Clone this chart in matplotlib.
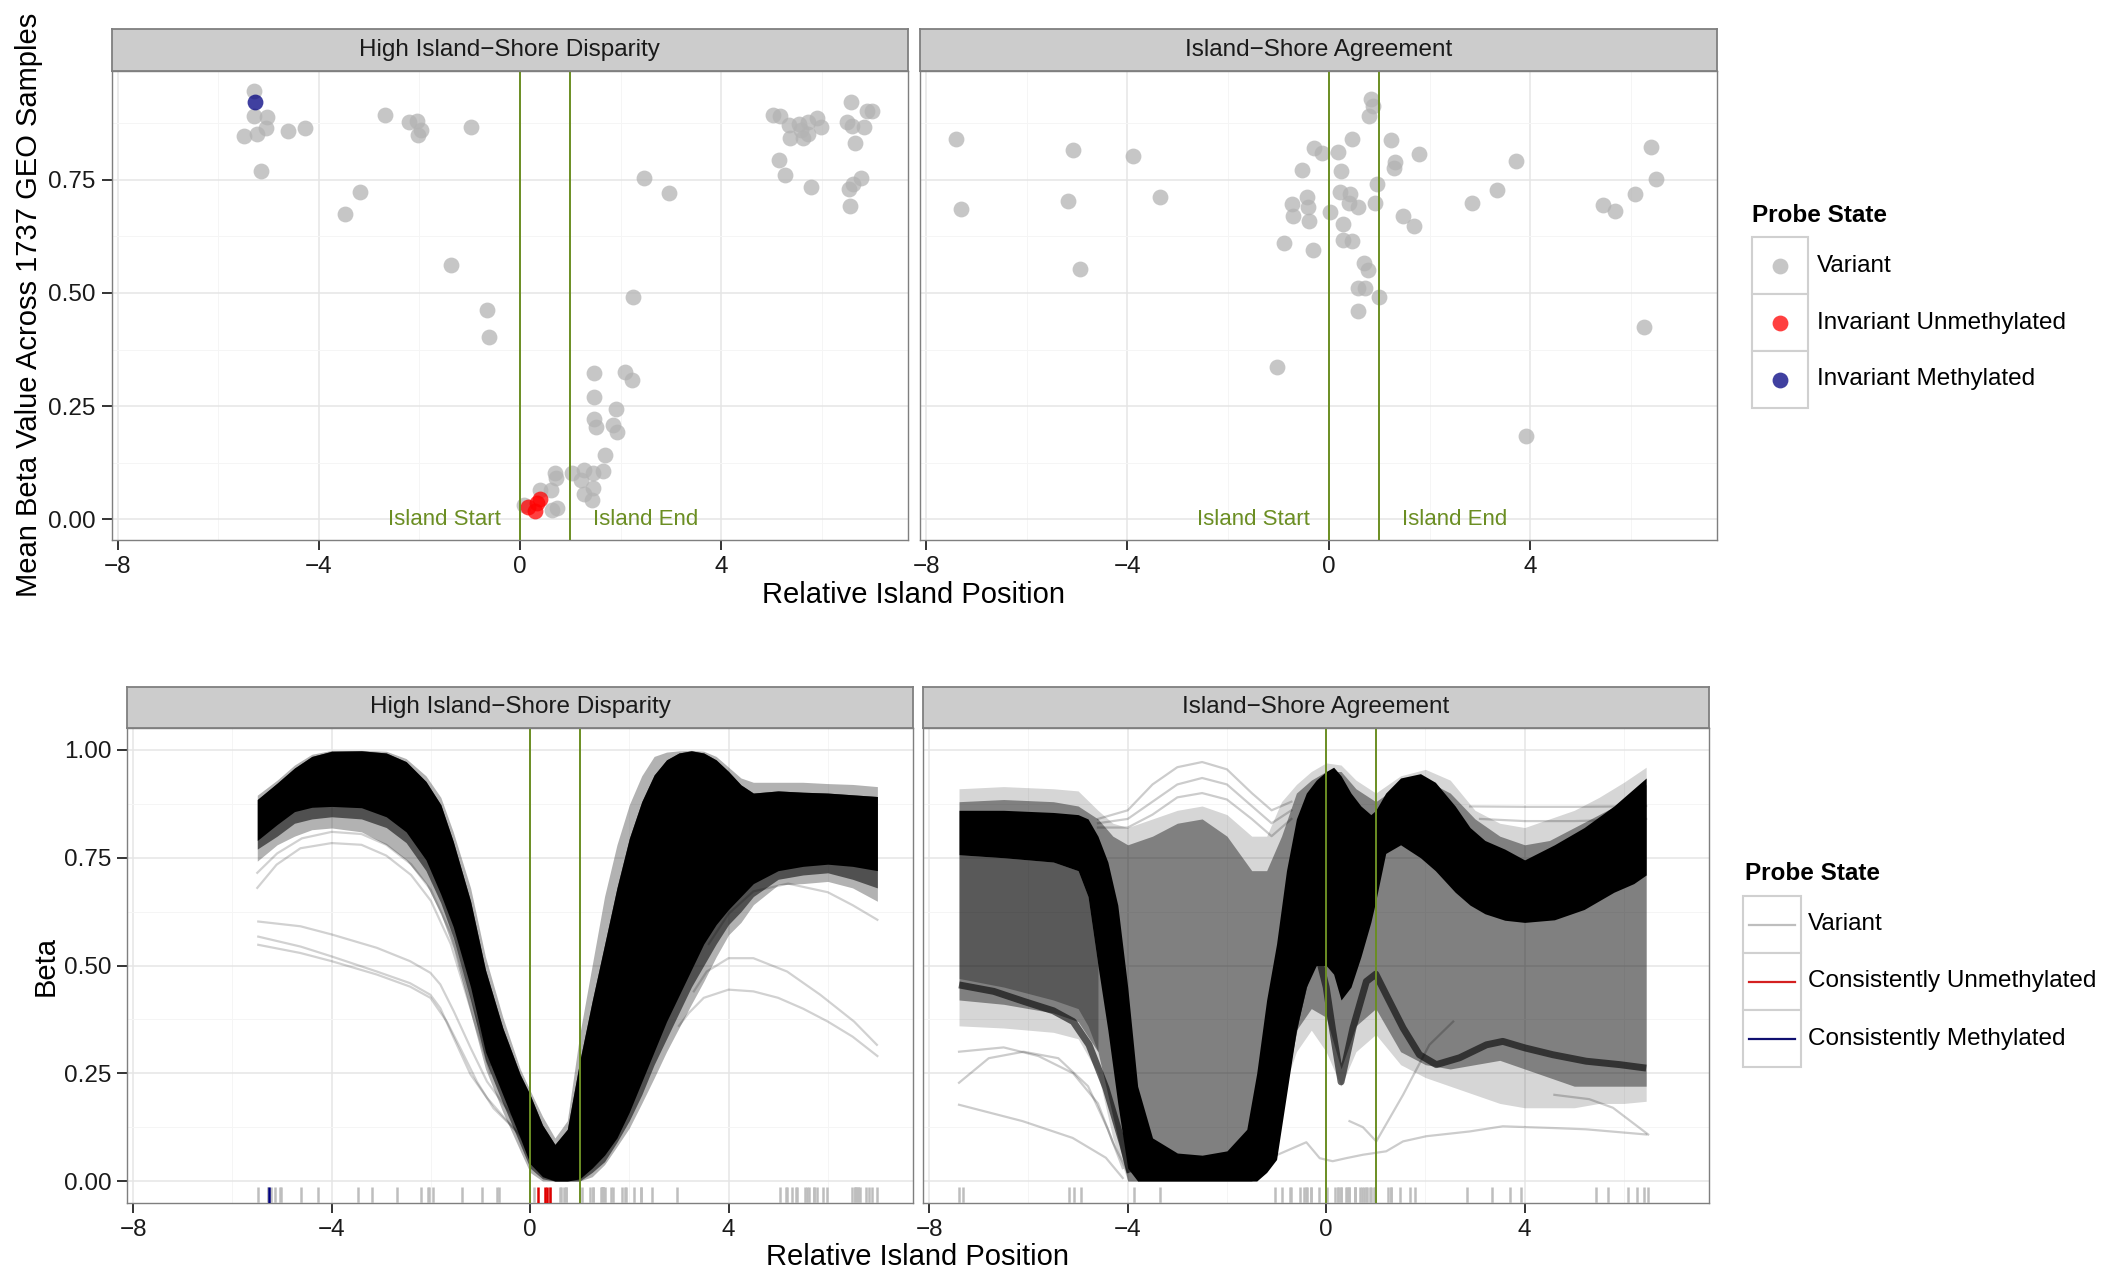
"""Island/shore methylation facets: mean beta scatter (top) and smoothed beta profiles (bottom)."""

import numpy as np
import matplotlib
matplotlib.use("Agg")
import matplotlib.pyplot as plt
from matplotlib.patches import Rectangle
from matplotlib.lines import Line2D

plt.rcParams["font.family"] = ["Liberation Sans", "DejaVu Sans"]

W, H = 2112, 1273
GREEN = "#6B8E23"

# ── data: top row, mean beta per probe ───────────────────────────────────────
panels = ["High Island\u2212Shore Disparity", "Island\u2212Shore Agreement"]

tl_var_x = [-5.29, -5.29, -5.02, -5.49, -5.23, -5.05, -5.14, -4.62, -4.27, -2.68,
            -2.20, -2.05, -2.03, -1.96, -0.98, -3.18, -3.47, -1.38, -0.66, -0.62,
            0.07, 0.40, 0.61, 0.69, 0.72, 0.63, 0.73, 1.04, 1.27, 1.45,
            1.21, 1.27, 1.42, 1.45, 1.64, 1.68, 1.47, 1.50, 1.47, 1.47,
            1.91, 1.85, 1.93, 2.09, 2.23, 2.24, 2.46, 2.96,
            5.03, 5.17, 5.35, 5.55, 5.73, 5.91, 5.99, 5.58, 5.37, 5.62,
            5.72, 5.15, 5.27, 5.79, 6.57, 6.49, 6.60, 6.84, 6.90, 7.00,
            6.65, 6.77, 6.61, 6.54, 6.55]
tl_var_y = [0.947, 0.890, 0.888, 0.846, 0.851, 0.864, 0.770, 0.857, 0.864, 0.893,
            0.877, 0.879, 0.849, 0.859, 0.866, 0.723, 0.674, 0.562, 0.463, 0.402,
            0.031, 0.064, 0.064, 0.103, 0.092, 0.020, 0.024, 0.103, 0.108, 0.103,
            0.086, 0.055, 0.042, 0.068, 0.106, 0.141, 0.221, 0.204, 0.271, 0.324,
            0.243, 0.208, 0.193, 0.326, 0.307, 0.492, 0.753, 0.721,
            0.893, 0.890, 0.872, 0.874, 0.877, 0.886, 0.866, 0.859, 0.842, 0.842,
            0.851, 0.794, 0.761, 0.733, 0.921, 0.877, 0.870, 0.866, 0.901, 0.901,
            0.831, 0.753, 0.740, 0.730, 0.692]
tl_unmeth_x = [0.165, 0.298, 0.397, 0.344]
tl_unmeth_y = [0.028, 0.018, 0.044, 0.036]
tl_meth_x = [-5.26]
tl_meth_y = [0.922]

tr_var_x = [-7.41, -7.31, -5.08, -5.18, -4.95, -3.88, -3.35, -1.03, -0.89, -0.73,
            -0.71, -0.53, -0.44, -0.41, -0.39, -0.31, -0.30, -0.14, 0.02, 0.18,
            0.24, 0.23, 0.29, 0.29, 0.42, 0.40, 0.47, 0.47, 0.58, 0.58,
            0.72, 0.58, 0.69, 0.77, 0.83, 0.88, 0.80, 0.96, 0.91, 0.99,
            1.24, 1.31, 1.30, 1.48, 1.69, 1.80, 2.84, 3.35, 3.71, 3.92,
            5.44, 5.68, 6.08, 6.26, 6.40, 6.49]
tr_var_y = [0.840, 0.685, 0.816, 0.704, 0.552, 0.803, 0.711, 0.337, 0.611, 0.697,
            0.669, 0.772, 0.713, 0.689, 0.658, 0.594, 0.820, 0.809, 0.678, 0.811,
            0.770, 0.722, 0.652, 0.617, 0.719, 0.698, 0.615, 0.840, 0.691, 0.510,
            0.510, 0.460, 0.566, 0.551, 0.929, 0.914, 0.892, 0.741, 0.698, 0.492,
            0.837, 0.789, 0.776, 0.671, 0.648, 0.807, 0.699, 0.728, 0.791, 0.184,
            0.695, 0.682, 0.719, 0.424, 0.822, 0.752]

# ── data: bottom-left, envelopes of the smoothed beta profiles ────────────────
bl_x = [-5.5, -5.1, -4.75, -4.4, -4.0, -3.4, -2.9, -2.5, -2.1, -1.8,
        -1.55, -1.2, -0.9, -0.55, -0.2, 0.0, 0.25, 0.5, 0.75, 1.0,
        1.25, 1.5, 1.75, 2.0, 2.25, 2.5, 2.75, 3.0, 3.25, 3.5,
        3.75, 4.0, 4.25, 4.5, 5.0, 5.5, 6.0, 6.5, 7.0]
bl_core_hi = [0.885, 0.923, 0.958, 0.985, 0.997, 0.998, 0.993, 0.973, 0.927, 0.873,
              0.788, 0.649, 0.49, 0.355, 0.247, 0.20, 0.13, 0.085, 0.12, 0.278,
              0.417, 0.548, 0.68, 0.795, 0.88, 0.942, 0.977, 0.993, 0.998, 0.993,
              0.977, 0.95, 0.919, 0.90, 0.905, 0.902, 0.90, 0.896, 0.892]
bl_core_lo = [0.79, 0.827, 0.857, 0.867, 0.869, 0.866, 0.845, 0.81, 0.745, 0.665,
              0.59, 0.45, 0.30, 0.20, 0.10, 0.04, 0.01, 0.0, 0.0, 0.005,
              0.03, 0.06, 0.10, 0.16, 0.23, 0.30, 0.37, 0.43, 0.49, 0.55,
              0.595, 0.63, 0.66, 0.69, 0.72, 0.73, 0.735, 0.73, 0.72]
bl_mid_lo = [0.77, 0.80, 0.83, 0.84, 0.845, 0.84, 0.82, 0.785, 0.72, 0.645,
             0.565, 0.42, 0.28, 0.18, 0.085, 0.03, 0.005, 0.0, 0.0, 0.0,
             0.02, 0.045, 0.09, 0.14, 0.20, 0.27, 0.33, 0.39, 0.45, 0.50,
             0.55, 0.595, 0.625, 0.66, 0.70, 0.71, 0.715, 0.70, 0.68]
bl_fringe_hi = [0.895, 0.93, 0.965, 0.99, 0.999, 0.999, 0.997, 0.98, 0.94, 0.89,
                0.81, 0.68, 0.52, 0.38, 0.26, 0.21, 0.15, 0.10, 0.14, 0.34,
                0.50, 0.66, 0.78, 0.873, 0.94, 0.985, 0.995, 0.998, 0.999, 0.997,
                0.985, 0.96, 0.935, 0.925, 0.925, 0.925, 0.922, 0.92, 0.915]
bl_fringe_lo = [0.742, 0.78, 0.80, 0.815, 0.819, 0.81, 0.78, 0.745, 0.69, 0.62,
                0.54, 0.39, 0.26, 0.16, 0.07, 0.02, 0.0, 0.0, 0.0, 0.0,
                0.01, 0.038, 0.08, 0.123, 0.18, 0.239, 0.30, 0.355, 0.41, 0.463,
                0.52, 0.571, 0.60, 0.641, 0.687, 0.69, 0.695, 0.68, 0.649]

# single stray profiles, bottom-left
bl_lines = [
    ([-5.48, -4.63, -4.0, -3.09, -2.42, -2.01, -1.81, -1.54, -1.20, -0.87, -0.53, 0.0, 0.5],
     [0.602, 0.591, 0.572, 0.541, 0.51, 0.483, 0.456, 0.394, 0.309, 0.231, 0.177, 0.10, 0.05]),
    ([-5.48, -4.63, -4.0, -3.09, -2.42, -2.01, -1.81, -1.54, -1.20, -0.87, -0.40, 0.0, 0.5],
     [0.567, 0.544, 0.521, 0.486, 0.459, 0.432, 0.401, 0.332, 0.247, 0.193, 0.131, 0.077, 0.03]),
    ([-5.48, -4.63, -4.0, -3.09, -2.42, -2.01, -1.68, -1.41, -1.07, -0.74, 0.0, 0.5],
     [0.548, 0.529, 0.510, 0.479, 0.451, 0.425, 0.37, 0.309, 0.23, 0.169, 0.085, 0.03]),
    ([-5.5, -5.11, -4.63, -4.0, -3.4, -2.9, -2.4, -2.0, -1.6, -1.2, -0.8],
     [0.68, 0.734, 0.772, 0.784, 0.78, 0.755, 0.71, 0.65, 0.55, 0.40, 0.25]),
    ([-5.5, -5.1, -4.6, -4.0, -3.4, -2.9, -2.4, -2.0, -1.6, -1.2, -0.8],
     [0.715, 0.76, 0.795, 0.81, 0.805, 0.78, 0.735, 0.675, 0.575, 0.42, 0.27]),
    ([3.0, 3.2, 3.5, 4.0, 4.5, 5.0, 5.5, 6.0, 6.5, 7.0],
     [0.36, 0.39, 0.425, 0.444, 0.44, 0.425, 0.40, 0.37, 0.335, 0.29]),
    ([3.3, 3.56, 4.0, 4.5, 5.18, 5.85, 6.53, 6.99],
     [0.44, 0.486, 0.517, 0.517, 0.486, 0.432, 0.37, 0.316]),
    ([3.6, 4.0, 4.5, 5.2, 6.0, 6.5, 7.0],
     [0.55, 0.62, 0.672, 0.69, 0.67, 0.64, 0.606]),
]

# ── data: bottom-right envelopes ─────────────────────────────────────────────
br_x = [-7.4, -6.5, -5.5, -5.0, -4.8, -4.6, -4.4, -4.2, -4.0, -3.8,
        -3.5, -3.0, -2.5, -2.0, -1.6, -1.4, -1.2, -1.0, -0.8, -0.6,
        -0.4, -0.2, 0.0, 0.15, 0.3, 0.5, 0.7, 0.9, 1.0, 1.2,
        1.5, 1.9, 2.2, 2.6, 2.9, 3.2, 3.6, 4.0, 4.6, 5.2,
        5.8, 6.2, 6.45]
br_core_hi = [0.86, 0.86, 0.855, 0.85, 0.84, 0.80, 0.74, 0.64, 0.45, 0.22,
              0.10, 0.065, 0.06, 0.07, 0.12, 0.25, 0.42, 0.55, 0.72, 0.84,
              0.90, 0.93, 0.95, 0.96, 0.94, 0.90, 0.87, 0.85, 0.86, 0.90,
              0.935, 0.945, 0.925, 0.87, 0.82, 0.79, 0.77, 0.745, 0.78, 0.82,
              0.87, 0.91, 0.935]
br_core_lo = [0.757, 0.75, 0.74, 0.72, 0.66, 0.50, 0.35, 0.18, 0.03, 0.0,
              0.0, 0.0, 0.0, 0.0, 0.0, 0.0, 0.02, 0.05, 0.20, 0.35,
              0.45, 0.50, 0.50, 0.48, 0.42, 0.45, 0.52, 0.60, 0.65, 0.76,
              0.78, 0.75, 0.72, 0.67, 0.64, 0.62, 0.605, 0.60, 0.606, 0.63,
              0.67, 0.69, 0.71]

br_dx = [-7.4, -6.5, -5.5, -5.0, -4.6, -4.3, -4.0, -3.5, -3.0, -2.5,
         -2.0, -1.5, -1.2, -0.9, -0.6, -0.3, 0.0, 0.3, 0.6, 1.0,
         1.5, 2.0, 2.5, 3.0, 3.5, 4.0, 4.5, 5.0, 5.5, 6.0, 6.45]
br_sparse_hi = [0.91, 0.915, 0.91, 0.905, 0.86, 0.83, 0.82, 0.84, 0.86, 0.87,
                0.85, 0.80, 0.80, 0.88, 0.92, 0.95, 0.97, 0.965, 0.93, 0.90,
                0.94, 0.955, 0.93, 0.86, 0.83, 0.82, 0.84, 0.86, 0.89, 0.925, 0.96]
br_sparse_lo = [0.36, 0.355, 0.345, 0.33, 0.25, 0.10, 0.0, 0.0, 0.0, 0.0,
                0.0, 0.0, 0.05, 0.2, 0.3, 0.35, 0.30, 0.22, 0.30, 0.34,
                0.27, 0.24, 0.22, 0.2, 0.18, 0.17, 0.17, 0.17, 0.18, 0.18, 0.185]
br_mid_hi = [0.88, 0.885, 0.88, 0.87, 0.84, 0.80, 0.78, 0.80, 0.83, 0.84,
             0.80, 0.72, 0.72, 0.80, 0.90, 0.93, 0.95, 0.95, 0.91, 0.88,
             0.92, 0.93, 0.90, 0.84, 0.80, 0.78, 0.79, 0.82, 0.85, 0.88, 0.92]
br_mid_lo = [0.42, 0.41, 0.39, 0.37, 0.30, 0.15, 0.0, 0.0, 0.0, 0.0,
             0.0, 0.0, 0.06, 0.25, 0.35, 0.40, 0.38, 0.26, 0.36, 0.40,
             0.30, 0.27, 0.26, 0.27, 0.28, 0.26, 0.24, 0.22, 0.22, 0.22, 0.22]

# denser shelf under the left plateau, bottom-right
br_shelf_x = [-7.4, -6.5, -5.5, -5.0, -4.8, -4.6]
br_shelf_hi = [0.757, 0.75, 0.74, 0.72, 0.66, 0.50]
br_shelf_lo = [0.47, 0.45, 0.42, 0.40, 0.36, 0.30]

# darker secondary bundle of profiles, bottom-right
br_bundle = [
    ([-7.4, -6.7, -6.1, -5.5, -5.1, -4.78, -4.44, -4.1, -3.95],
     [0.455, 0.44, 0.417, 0.395, 0.37, 0.316, 0.216, 0.085, 0.02]),
    ([-1.2, -0.9, -0.6, -0.35, -0.13, 0.0, 0.13, 0.3, 0.54, 0.81, 1.0, 1.21,
      1.55, 1.88, 2.22, 2.69, 3.23, 3.56, 4.0, 4.57, 5.24, 5.92, 6.45],
     [0.05, 0.2, 0.38, 0.50, 0.51, 0.45, 0.35, 0.23, 0.355, 0.463, 0.48, 0.432,
      0.355, 0.293, 0.27, 0.286, 0.316, 0.324, 0.309, 0.293, 0.278, 0.27, 0.262]),
]

br_lines = [
    ([-7.4, -6.12, -5.11, -4.44, -4.1], [0.177, 0.139, 0.10, 0.054, 0.007]),
    ([-7.4, -6.8, -6.1, -5.4, -4.8, -4.4, -4.1], [0.228, 0.285, 0.30, 0.285, 0.22, 0.12, 0.03]),
    ([-7.4, -6.5, -5.8, -5.1, -4.6, -4.3, -4.0], [0.30, 0.31, 0.29, 0.25, 0.18, 0.09, 0.02]),
    ([-1.0, -0.4, -0.13, 0.13, 0.4, 0.74, 1.21, 1.55, 2.02, 2.89, 3.56, 4.57, 5.24, 6.45],
     [0.06, 0.09, 0.053, 0.046, 0.053, 0.061, 0.069, 0.092, 0.104, 0.115, 0.127, 0.123, 0.12, 0.108]),
    ([0.47, 0.74, 1.01, 1.55, 2.08, 2.56], [0.139, 0.125, 0.092, 0.2, 0.316, 0.37]),
    ([2.9, 4.0, 5.0, 6.0, 6.45], [0.869, 0.868, 0.868, 0.869, 0.87]),
    ([3.1, 4.0, 5.0, 6.0, 6.45], [0.84, 0.835, 0.835, 0.838, 0.84]),
    ([4.6, 5.3, 5.78, 6.49], [0.2, 0.19, 0.17, 0.108]),
    ([-4.6, -4.0, -3.5, -3.0, -2.5, -2.0, -1.5, -1.1, -0.7],
     [0.84, 0.86, 0.92, 0.96, 0.972, 0.955, 0.90, 0.86, 0.88]),
    ([-4.6, -4.0, -3.5, -3.0, -2.5, -2.0, -1.5, -1.1, -0.7],
     [0.83, 0.84, 0.88, 0.92, 0.935, 0.92, 0.87, 0.83, 0.86]),
    ([-4.6, -4.0, -3.5, -3.0, -2.5, -2.0, -1.5, -1.1, -0.7],
     [0.82, 0.82, 0.85, 0.89, 0.90, 0.885, 0.84, 0.80, 0.84]),
]

XLIM = (-8.12, 7.71)


def rect(l, t, r, b):
    return [l / W, 1 - b / H, (r - l) / W, (b - t) / H]


def style_panel(ax, ylim, yticks, yminor, left):
    ax.set_xlim(XLIM)
    ax.set_ylim(ylim)
    ax.set_xticks([-8, -4, 0, 4])
    ax.set_xticks([-6, -2, 2, 6], minor=True)
    ax.set_yticks(yticks)
    ax.set_yticks(yminor, minor=True)
    ax.set_yticklabels([f"{v:.2f}" for v in yticks])
    ax.grid(which="major", color="#E5E5E5", lw=1.1)
    ax.grid(which="minor", color="#F5F5F5", lw=0.7)
    ax.set_axisbelow(True)
    for s in ax.spines.values():
        s.set_color("#7F7F7F")
        s.set_linewidth(1.0)
    ax.tick_params(which="major", length=7.5, width=1.4, color="#333333",
                   labelsize=17.5, labelcolor="#1A1A1A", pad=4)
    ax.tick_params(which="minor", length=0)
    if not left:
        ax.tick_params(axis="y", left=False, labelleft=False)


def add_strip(l, r, t, b, label):
    sa = fig.add_axes(rect(l, t, r, b))
    sa.set_facecolor("#CCCCCC")
    sa.set_xticks([])
    sa.set_yticks([])
    for s in sa.spines.values():
        s.set_color("#7F7F7F")
        s.set_linewidth(1.3)
    sa.text(0.5, 0.5, label, ha="center", va="center", fontsize=17.5,
            color="#1A1A1A", transform=sa.transAxes)


fig = plt.figure(figsize=(W / 100, H / 100), dpi=100)

top_ylim = (-0.0453, 0.990)
bot_ylim = (-0.05, 1.05)
ax_tl = fig.add_axes(rect(111.5, 71.2, 908, 539.7))
ax_tr = fig.add_axes(rect(920, 71.2, 1717, 539.7))
ax_bl = fig.add_axes(rect(127.3, 728.4, 912.6, 1202.6))
ax_br = fig.add_axes(rect(923.3, 728.4, 1708.7, 1202.6))

add_strip(111.5, 908, 28.9, 71.2, panels[0])
add_strip(920, 1717, 28.9, 71.2, panels[1])
add_strip(127.3, 912.6, 686.6, 728.4, panels[0])
add_strip(923.3, 1708.7, 686.6, 728.4, panels[1])

# ── top row scatter ──────────────────────────────────────────────────────────
PT = 130
ax_tl.scatter(tl_var_x, tl_var_y, s=PT, color="#B3B3B3", alpha=0.75, lw=0, zorder=3)
ax_tl.scatter(tl_unmeth_x, tl_unmeth_y, s=PT, color="#FF0000", alpha=0.75, lw=0, zorder=4)
ax_tl.scatter(tl_meth_x, tl_meth_y, s=PT, color="#000080", alpha=0.75, lw=0, zorder=4)
ax_tr.scatter(tr_var_x, tr_var_y, s=PT, color="#B3B3B3", alpha=0.75, lw=0, zorder=3)

for ax in (ax_tl, ax_tr):
    style_panel(ax, top_ylim, [0, 0.25, 0.5, 0.75], [0.125, 0.375, 0.625, 0.875], ax is ax_tl)
    for xv in (0, 1):
        ax.axvline(xv, color=GREEN, lw=1.4, zorder=5)
    ax.text(-1.5, 0.0, "Island Start", color=GREEN, fontsize=16, ha="center", va="center", zorder=6)
    ax.text(2.5, 0.0, "Island End", color=GREEN, fontsize=16, ha="center", va="center", zorder=6)

# ── bottom-left profiles ─────────────────────────────────────────────────────
ax_bl.fill_between(bl_x, bl_fringe_lo, bl_fringe_hi, color="black", alpha=0.3, lw=0, zorder=2)
ax_bl.fill_between(bl_x, bl_mid_lo, bl_core_hi, color="black", alpha=0.55, lw=0, zorder=2)
ax_bl.fill_between(bl_x, bl_core_lo, bl_core_hi, color="black", alpha=1.0, lw=0, zorder=3)
for lx, ly in bl_lines:
    ax_bl.plot(lx, ly, color="black", alpha=0.18, lw=1.6, zorder=3)

# ── bottom-right profiles ────────────────────────────────────────────────────
ax_br.fill_between(br_dx, br_sparse_lo, br_sparse_hi, color="black", alpha=0.16, lw=0, zorder=2)
ax_br.fill_between(br_dx, br_mid_lo, br_mid_hi, color="black", alpha=0.40, lw=0, zorder=2)
ax_br.fill_between(br_shelf_x, br_shelf_lo, br_shelf_hi, color="black", alpha=0.3, lw=0, zorder=2)
ax_br.fill_between(br_x, br_core_lo, br_core_hi, color="black", alpha=1.0, lw=0, zorder=3)
for lx, ly in br_bundle:
    ax_br.plot(lx, ly, color="black", alpha=0.6, lw=5, solid_capstyle="butt", zorder=3)
for lx, ly in br_lines:
    ax_br.plot(lx, ly, color="black", alpha=0.2, lw=1.6, zorder=3)

for ax in (ax_bl, ax_br):
    style_panel(ax, bot_ylim, [0, 0.25, 0.5, 0.75, 1.0],
                [0.125, 0.375, 0.625, 0.875], ax is ax_bl)
    for xv in (0, 1):
        ax.axvline(xv, color=GREEN, lw=1.4, zorder=5)

# rugs: probe positions along the island coordinate
rug_tf_bl = ax_bl.get_xaxis_transform()
ax_bl.vlines(tl_var_x, 0, 0.032, transform=rug_tf_bl, color="#BEBEBE", lw=1.8, zorder=4)
ax_bl.vlines(tl_unmeth_x, 0, 0.032, transform=rug_tf_bl, color="#E00000", lw=1.8, zorder=4)
ax_bl.vlines(tl_meth_x, 0, 0.032, transform=rug_tf_bl, color="#000080", lw=1.8, zorder=4)
ax_br.vlines(tr_var_x, 0, 0.032, transform=ax_br.get_xaxis_transform(), color="#BEBEBE", lw=1.8, zorder=4)

# ── titles and legends on an overlay in pixel units ──────────────────────────
ov = fig.add_axes([0, 0, 1, 1], zorder=10)
ov.set_xlim(0, W)
ov.set_ylim(H, 0)
ov.axis("off")

ov.text(914, 595, "Relative Island Position", fontsize=21, ha="center", va="center")
ov.text(918, 1257, "Relative Island Position", fontsize=21, ha="center", va="center")
ov.text(29, 305, "Mean Beta Value Across 1737 GEO Samples", fontsize=21,
        rotation=90, ha="center", va="center")
ov.text(45.5, 966, "Beta", fontsize=21, rotation=90, ha="center", va="center")

pt_labels = ["Variant", "Invariant Unmethylated", "Invariant Methylated"]
pt_colors = ["#B3B3B3", "#FF0000", "#000080"]
ov.text(1752, 215, "Probe State", fontsize=17.5, fontweight="bold", ha="left", va="center")
for i, (lab, col) in enumerate(zip(pt_labels, pt_colors)):
    top = 237 + i * 57
    ov.add_patch(Rectangle((1752, top), 56, 57, facecolor="white", edgecolor="#D0D0D0", lw=1.5))
    ov.scatter([1780], [top + 28.5], s=PT, color=col, alpha=0.75, lw=0)
    ov.text(1817, top + 28.5, lab, fontsize=17.5, ha="left", va="center")

ln_labels = ["Variant", "Consistently Unmethylated", "Consistently Methylated"]
ln_colors = ["#BEBEBE", "#D42020", "#101070"]
ov.text(1745, 873, "Probe State", fontsize=17.5, fontweight="bold", ha="left", va="center")
for i, (lab, col) in enumerate(zip(ln_labels, ln_colors)):
    top = 896 + i * 57
    ov.add_patch(Rectangle((1743, top), 58, 57, facecolor="white", edgecolor="#D0D0D0", lw=1.5))
    ov.add_line(Line2D([1749, 1795], [top + 28.5, top + 28.5], color=col, lw=1.6))
    ov.text(1808, top + 28.5, lab, fontsize=17.5, ha="left", va="center")

fig.savefig("out.png", dpi=100)
